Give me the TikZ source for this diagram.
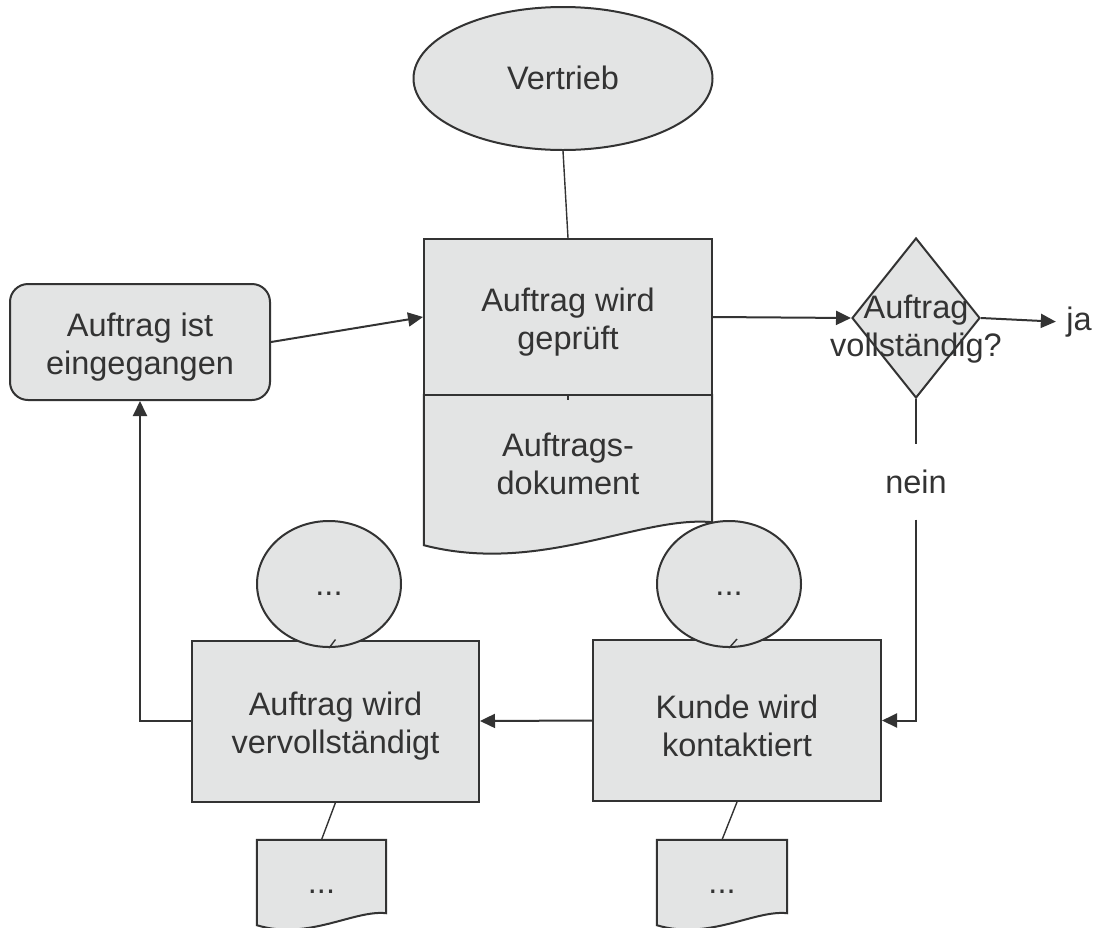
\documentclass[tikz,border=0pt]{standalone}
\usepackage{fontspec}
\setmainfont{Liberation Sans}
\usetikzlibrary{shapes.geometric,arrows.meta,calc,backgrounds}

\definecolor{fuellung}{HTML}{E3E4E4}
\definecolor{strich}{HTML}{333333}

\tikzset{
  form/.style={draw=strich,fill=fuellung,line width=2pt},
  schrift/.style={text=strich,font=\fontsize{32.5}{38}\selectfont,align=center},
  prozess/.style={form,schrift,rectangle,inner sep=0pt},
  ereignis/.style={prozess,rounded corners=18pt},
  kreis/.style={form,schrift,ellipse,inner sep=0pt,text height=28pt,text depth=6pt},
  entscheid/.style={form,diamond,inner sep=0pt,minimum width=128pt,minimum height=160pt},
  dokument/.style={schrift,rectangle,inner sep=0pt},
  pfeil/.style={draw=strich,line width=2pt,-{Triangle[length=15pt,width=14pt]}},
  fluss/.style={draw=strich,line width=2pt},
  linie/.style={draw=strich,line width=1.4pt}
}

\newcommand{\oben}{\rule{0pt}{34pt}}

\newcommand{\dokform}[2]{%
  \draw[form] (#1.north west) -- (#1.north east) -- (#1.south east)
    .. controls ($(#1.south east)!0.25!(#1.south west)+(0,-0.3*#2)$)
           and ($(#1.south east)!0.6!(#1.south west)+(0,2.3*#2)$)
    .. ($(#1.south west)+(0,#2)$) -- cycle;}

\begin{document}
\begin{tikzpicture}[x=1pt,y=-1pt]
\useasboundingbox (0,0) rectangle (1094,927);

\node[kreis,minimum width=299pt,minimum height=143pt] (vertrieb) at (563,78.5) {Vertrieb};
\node[prozess,minimum width=288pt,minimum height=156pt] (pruef) at (568,317) {\oben Auftrag wird\\geprüft};
\node[dokument,minimum width=288pt,minimum height=127pt] (dok) at (568,458.5) {\oben Auftrags-\\dokument};
\node[ereignis,minimum width=260pt,minimum height=116pt] (eingang) at (140,342) {\oben Auftrag ist\\eingegangen};

\node[entscheid] (voll) at (916,318) {};
\node[schrift] (frage) at (916,329) {Auftrag\\vollständig?};
\node[schrift] (ja) at (1079,322) {ja};
\node[schrift,minimum height=75pt] (nein) at (916,482) {nein};

\node[prozess,minimum width=288pt,minimum height=161pt] (kunde) at (737,720.5) {\oben Kunde wird\\kontaktiert};
\node[prozess,minimum width=287pt,minimum height=161pt] (ergaenzt) at (335.5,721) {\oben Auftrag wird\\vervollständigt};
\node[kreis,minimum width=144pt,minimum height=126pt] (info1) at (329,584) {...};
\node[kreis,minimum width=144pt,minimum height=126pt] (info2) at (729,584) {...};
\node[dokument,minimum width=129pt,minimum height=73pt] (beleg1) at (321.5,876.5) {\oben...};
\node[dokument,minimum width=130pt,minimum height=73pt] (beleg2) at (722,876.5) {\oben...};

\begin{pgfonlayer}{background}
\foreach \d/\a in {dok/23,beleg1/12,beleg2/12}{\dokform{\d}{\a}}
\end{pgfonlayer}

\draw[linie] (vertrieb.south) -- (pruef.north);
\draw[linie] (pruef.south) -- ([yshift=-5pt]dok.north);
\draw[pfeil] (eingang.east) -- (pruef.west);
\draw[pfeil] (pruef.east) -- (voll.west);
\draw[pfeil,shorten >=7pt] (voll.east) -- (ja.west);
\draw[fluss] (voll.south) -- (nein.north);
\draw[pfeil] (nein.south) |- (kunde.east);
\draw[pfeil] (kunde.west) -- (ergaenzt.east);
\draw[pfeil] (ergaenzt.west) -| (eingang.south);

\foreach \n/\k in {1/ergaenzt,2/kunde}
  {\draw[linie] (info\n.south) -- (\k.north);
   \draw[linie] (\k.south) -- (beleg\n.north);}

\end{tikzpicture}
\end{document}
